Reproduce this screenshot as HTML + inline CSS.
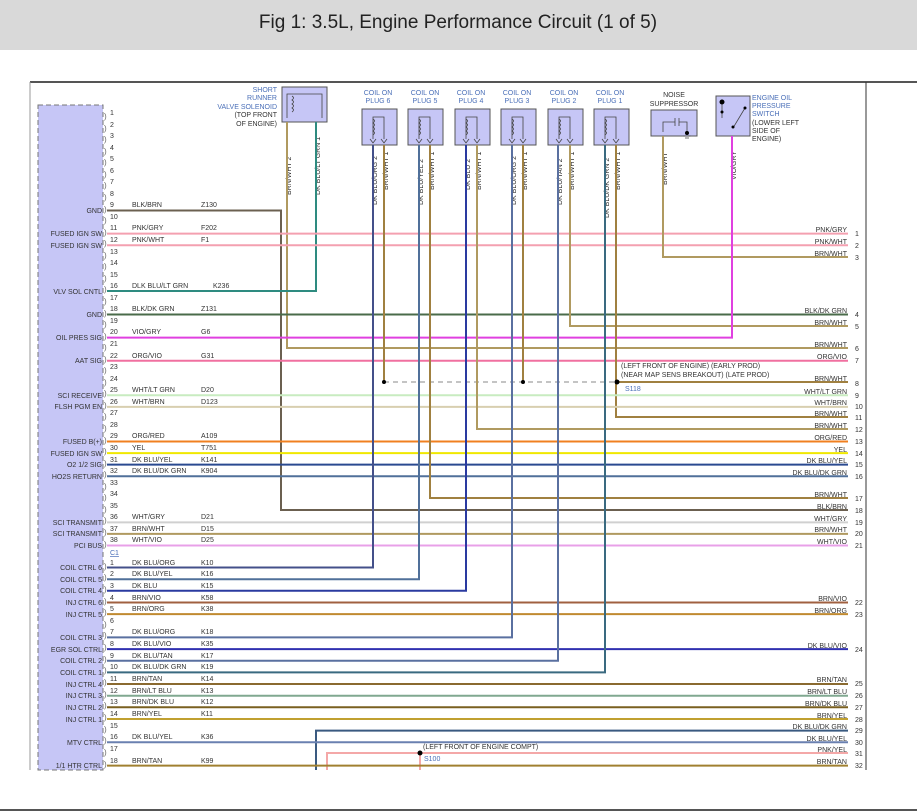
<!DOCTYPE html>
<html><head><meta charset="utf-8"><style>
html,body{margin:0;padding:0;background:#fff;}
svg{display:block;font-family:"Liberation Sans",sans-serif;}
.t{font-size:7px;fill:#333;}
.n{font-size:7px;fill:#333;}
.r{font-size:7px;fill:#333;text-anchor:end;}
.b{font-size:7px;fill:#4a6fb8;}
.w{fill:none;stroke-width:2;}
.pm{font-size:8px;fill:#666;}
</style></head><body>
<svg width="917" height="812" viewBox="0 0 917 812" xmlns="http://www.w3.org/2000/svg">
<defs>
<g id="coil"><path d="M11,30 L11,8 L22,8 L22,30" fill="none" stroke="#444" stroke-width="0.8"/><path d="M11,10 q3,2 0,4 q3,2 0,4 q3,2 0,4 q3,2 0,4" fill="none" stroke="#444" stroke-width="0.8"/><path d="M8,30 l3,4 l3,-4 M19,30 l3,4 l3,-4" fill="none" stroke="#444" stroke-width="0.8"/></g>
</defs>
<rect x="0" y="0" width="917" height="50" fill="#d9d9d9"/>
<text x="458" y="28" font-size="19" fill="#222" text-anchor="middle">Fig 1: 3.5L, Engine Performance Circuit (1 of 5)</text>
<line x1="30" y1="82" x2="917" y2="82" stroke="#555" stroke-width="2"/>
<line x1="30" y1="82" x2="30" y2="770" stroke="#999" stroke-width="1"/>
<line x1="866" y1="82" x2="866" y2="770" stroke="#333" stroke-width="1"/>
<line x1="0" y1="810" x2="917" y2="810" stroke="#555" stroke-width="2"/>

<rect x="38" y="105" width="65" height="665" fill="#c6c6f6" stroke="#777" stroke-dasharray="5,3"/>

<!-- components -->
<g stroke="#555" fill="#c6c6f6">
<rect x="282" y="87" width="45" height="35"/>
<rect x="362" y="109" width="35" height="36"/><rect x="408" y="109" width="35" height="36"/><rect x="455" y="109" width="35" height="36"/>
<rect x="501" y="109" width="35" height="36"/><rect x="548" y="109" width="35" height="36"/><rect x="594" y="109" width="35" height="36"/>
<rect x="651" y="110" width="46" height="26"/><rect x="716" y="96" width="34" height="40"/>
</g>
<use href="#coil" x="362" y="109"/><use href="#coil" x="408" y="109"/><use href="#coil" x="455" y="109"/>
<use href="#coil" x="501" y="109"/><use href="#coil" x="548" y="109"/><use href="#coil" x="594" y="109"/>
<g fill="none" stroke="#444" stroke-width="0.8">
<path d="M287,118 L287,94 L322,94 L322,118"/><path d="M292,96 q3,2 0,4 q3,2 0,4 q3,2 0,4 q3,2 0,4"/>
<path d="M663,132 L663,122 L675,122 M679,122 L687,122 L687,132 M675,118 L675,126 M679,118 L679,126"/>
<path d="M683,136 l8,0 M685,138 l4,0"/>
<path d="M722,104 L722,118 M733,128 L745,108"/>
</g>
<g fill="#000"><circle cx="687" cy="133" r="2"/><circle cx="722" cy="102" r="2.5"/><circle cx="722" cy="112" r="1.5"/><circle cx="745" cy="108" r="1.5"/><circle cx="733" cy="127" r="1.5"/></g>
<g class="b" text-anchor="middle">
<text x="378" y="95">COIL ON</text><text x="378" y="103">PLUG 6</text>
<text x="425" y="95">COIL ON</text><text x="425" y="103">PLUG 5</text>
<text x="471" y="95">COIL ON</text><text x="471" y="103">PLUG 4</text>
<text x="517" y="95">COIL ON</text><text x="517" y="103">PLUG 3</text>
<text x="564" y="95">COIL ON</text><text x="564" y="103">PLUG 2</text>
<text x="610" y="95">COIL ON</text><text x="610" y="103">PLUG 1</text>
</g>
<text class="t" x="674" y="97" text-anchor="middle">NOISE</text><text class="t" x="674" y="106" text-anchor="middle">SUPPRESSOR</text>
<g class="b" text-anchor="end"><text x="277" y="92">SHORT</text><text x="277" y="100">RUNNER</text><text x="277" y="109">VALVE SOLENOID</text></g>
<g class="t" text-anchor="end"><text x="277" y="117">(TOP FRONT</text><text x="277" y="126">OF ENGINE)</text></g>
<g class="b"><text x="752" y="100">ENGINE OIL</text><text x="752" y="108">PRESSURE</text><text x="752" y="116">SWITCH</text></g>
<g class="t"><text x="752" y="125">(LOWER LEFT</text><text x="752" y="133">SIDE OF</text><text x="752" y="141">ENGINE)</text></g>

<!-- vertical component wire labels -->
<g class="t">
<text transform="translate(291,195) rotate(-90)">BRN/WHT  2</text>
<text transform="translate(320,195) rotate(-90)">DK BLU/LT GRN  1</text>
<text transform="translate(377,205) rotate(-90)">DK BLU/ORG  2</text><text transform="translate(388,190) rotate(-90)">BRN/WHT  1</text>
<text transform="translate(423,205) rotate(-90)">DK BLU/YEL  2</text><text transform="translate(434,190) rotate(-90)">BRN/WHT  1</text>
<text transform="translate(470,190) rotate(-90)">DK BLU  2</text><text transform="translate(481,190) rotate(-90)">BRN/WHT  1</text>
<text transform="translate(516,205) rotate(-90)">DK BLU/ORG  2</text><text transform="translate(527,190) rotate(-90)">BRN/WHT  1</text>
<text transform="translate(562,205) rotate(-90)">DK BLU/TAN  2</text><text transform="translate(574,190) rotate(-90)">BRN/WHT  1</text>
<text transform="translate(609,218) rotate(-90)">DK BLU/DK GRN  2</text><text transform="translate(620,190) rotate(-90)">BRN/WHT  1</text>
<text transform="translate(667,185) rotate(-90)">BRN/WHT</text>
<text transform="translate(736,180) rotate(-90)">VIO/GRY</text>
</g>

<!-- wires -->
<g class="w">
<polyline stroke="#6b6050" points="107,210.5 281,210.5 281,510 848,510"/>
<polyline stroke="#b09a60" points="287,122 287,348 848,348"/>
<polyline stroke="#2e8b80" points="316,122 316,291 107,291"/>
<line stroke="#f4a0b0" x1="107" y1="233.6" x2="848" y2="233.6"/>
<line stroke="#f4a0b0" x1="107" y1="245.2" x2="848" y2="245.2"/>
<polyline stroke="#b09a60" points="663,136 663,257 848,257"/>
<line stroke="#4a6b4a" x1="107" y1="314.5" x2="848" y2="314.5"/>
<polyline stroke="#b09a60" points="570,145 570,326 848,326"/>
<polyline stroke="#e040e0" points="732,136 732,337.6 107,337.6"/>
<line stroke="#f070a0" x1="107" y1="360.7" x2="848" y2="360.7"/>
<line stroke="#888" stroke-width="1" stroke-dasharray="5,4" x1="384" y1="382" x2="617" y2="382"/>
<line stroke="#a08040" x1="384" y1="145" x2="384" y2="382"/>
<line stroke="#a08040" x1="523" y1="145" x2="523" y2="382"/>
<polyline stroke="#a08040" points="616,145 616,417 848,417"/>
<line stroke="#a08040" x1="617" y1="382" x2="848" y2="382"/>
<line stroke="#c8ecc0" x1="107" y1="395.3" x2="848" y2="395.3"/>
<line stroke="#d8cfb0" x1="107" y1="406.9" x2="848" y2="406.9"/>
<polyline stroke="#b09a60" points="477,145 477,429 848,429"/>
<line stroke="#f08020" x1="107" y1="441.5" x2="848" y2="441.5"/>
<line stroke="#f0e800" x1="107" y1="453.1" x2="848" y2="453.1"/>
<line stroke="#2a4a90" x1="107" y1="464.6" x2="848" y2="464.6"/>
<line stroke="#50709a" x1="107" y1="476.2" x2="848" y2="476.2"/>
<polyline stroke="#a08040" points="430,145 430,498 848,498"/>
<line stroke="#d0d0d0" x1="107" y1="522.4" x2="848" y2="522.4"/>
<line stroke="#b09a60" x1="107" y1="533.9" x2="848" y2="533.9"/>
<line stroke="#e8a0e8" x1="107" y1="545.5" x2="848" y2="545.5"/>
<polyline stroke="#44508a" points="373,145 373,567.5 107,567.5"/>
<polyline stroke="#50709a" points="419,145 419,579.2 107,579.2"/>
<polyline stroke="#2a3aa0" points="466,145 466,590.8 107,590.8"/>
<line stroke="#a06040" x1="107" y1="602.5" x2="848" y2="602.5"/>
<line stroke="#c08a30" x1="107" y1="614.1" x2="848" y2="614.1"/>
<polyline stroke="#5a70a0" points="512,145 512,637.4 107,637.4"/>
<line stroke="#3030b0" x1="107" y1="649.1" x2="848" y2="649.1"/>
<polyline stroke="#5a70a0" points="558,145 558,660.7 107,660.7"/>
<polyline stroke="#3a6a80" points="605,145 605,672.4 107,672.4"/>
<line stroke="#8a6a30" x1="107" y1="684" x2="848" y2="684"/>
<line stroke="#80a890" x1="107" y1="695.7" x2="848" y2="695.7"/>
<line stroke="#7a6020" x1="107" y1="707.3" x2="848" y2="707.3"/>
<line stroke="#c0a030" x1="107" y1="719" x2="848" y2="719"/>
<polyline stroke="#3a5a80" points="316,770 316,730.6 848,730.6"/>
<line stroke="#6a80b0" x1="107" y1="742.3" x2="848" y2="742.3"/>
<polyline stroke="#f4a8a8" points="327,770 327,753 848,753"/>
<line stroke="#f4a8a8" x1="420" y1="753" x2="420" y2="770"/>
<line stroke="#a08030" x1="107" y1="765.6" x2="848" y2="765.6"/>
</g>
<g fill="#000"><circle cx="384" cy="382" r="2"/><circle cx="523" cy="382" r="2"/><circle cx="617" cy="382" r="2.5"/><circle cx="420" cy="753" r="2.5"/></g>
<text class="t" x="621" y="368">(LEFT FRONT OF ENGINE) (EARLY PROD)</text>
<text class="t" x="621" y="377">(NEAR MAP SENS BREAKOUT) (LATE PROD)</text>
<text class="b" x="625" y="391">S118</text>
<text class="t" x="423" y="749">(LEFT FRONT OF ENGINE COMPT)</text>
<text class="b" x="424" y="761">S100</text>

<!-- pin markers -->
<g class="pm">
<text x="104" y="119">)</text><text x="104" y="131">)</text><text x="104" y="142">)</text><text x="104" y="154">)</text><text x="104" y="165">)</text><text x="104" y="177">)</text><text x="104" y="188">)</text><text x="104" y="200">)</text><text x="104" y="212">)</text><text x="104" y="223">)</text>
<text x="104" y="235">)</text><text x="104" y="246">)</text><text x="104" y="258">)</text><text x="104" y="269">)</text><text x="104" y="281">)</text><text x="104" y="292">)</text><text x="104" y="304">)</text><text x="104" y="316">)</text><text x="104" y="327">)</text><text x="104" y="339">)</text>
<text x="104" y="350">)</text><text x="104" y="362">)</text><text x="104" y="373">)</text><text x="104" y="385">)</text><text x="104" y="396">)</text><text x="104" y="408">)</text><text x="104" y="419">)</text><text x="104" y="431">)</text><text x="104" y="443">)</text><text x="104" y="454">)</text>
<text x="104" y="466">)</text><text x="104" y="477">)</text><text x="104" y="489">)</text><text x="104" y="500">)</text><text x="104" y="512">)</text><text x="104" y="523">)</text><text x="104" y="535">)</text><text x="104" y="547">)</text>
<text x="104" y="569">)</text><text x="104" y="580">)</text><text x="104" y="592">)</text><text x="104" y="604">)</text><text x="104" y="615">)</text><text x="104" y="627">)</text><text x="104" y="638">)</text><text x="104" y="650">)</text><text x="104" y="662">)</text><text x="104" y="673">)</text>
<text x="104" y="685">)</text><text x="104" y="697">)</text><text x="104" y="708">)</text><text x="104" y="720">)</text><text x="104" y="732">)</text><text x="104" y="743">)</text><text x="104" y="755">)</text><text x="104" y="767">)</text>
</g>

<!-- pin numbers -->
<g class="n">
<text x="110" y="115">1</text><text x="110" y="127">2</text><text x="110" y="138">3</text><text x="110" y="150">4</text><text x="110" y="161">5</text><text x="110" y="173">6</text><text x="110" y="184">7</text><text x="110" y="196">8</text><text x="110" y="207">9</text><text x="110" y="219">10</text>
<text x="110" y="230">11</text><text x="110" y="242">12</text><text x="110" y="254">13</text><text x="110" y="265">14</text><text x="110" y="277">15</text><text x="110" y="288">16</text><text x="110" y="300">17</text><text x="110" y="311">18</text><text x="110" y="323">19</text><text x="110" y="334">20</text>
<text x="110" y="346">21</text><text x="110" y="358">22</text><text x="110" y="369">23</text><text x="110" y="381">24</text><text x="110" y="392">25</text><text x="110" y="404">26</text><text x="110" y="415">27</text><text x="110" y="427">28</text><text x="110" y="438">29</text><text x="110" y="450">30</text>
<text x="110" y="462">31</text><text x="110" y="473">32</text><text x="110" y="485">33</text><text x="110" y="496">34</text><text x="110" y="508">35</text><text x="110" y="519">36</text><text x="110" y="531">37</text><text x="110" y="542">38</text>
<text x="110" y="555" fill="#4a6fb8" text-decoration="underline">C1</text>
<text x="110" y="565">1</text><text x="110" y="576">2</text><text x="110" y="588">3</text><text x="110" y="600">4</text><text x="110" y="611">5</text><text x="110" y="623">6</text><text x="110" y="634">7</text><text x="110" y="646">8</text><text x="110" y="658">9</text><text x="110" y="669">10</text>
<text x="110" y="681">11</text><text x="110" y="693">12</text><text x="110" y="704">13</text><text x="110" y="716">14</text><text x="110" y="728">15</text><text x="110" y="739">16</text><text x="110" y="751">17</text><text x="110" y="763">18</text>
</g>

<!-- left names -->
<g class="r">
<text x="102" y="213">GND</text><text x="102" y="236">FUSED IGN SW</text><text x="102" y="248">FUSED IGN SW</text><text x="102" y="294">VLV SOL CNTL</text><text x="102" y="317">GND</text><text x="102" y="340">OIL PRES SIG</text><text x="102" y="363">AAT SIG</text><text x="102" y="398">SCI RECEIVE</text><text x="102" y="409">FLSH PGM EN</text><text x="102" y="444">FUSED B(+)</text><text x="102" y="456">FUSED IGN SW</text><text x="102" y="467">O2 1/2 SIG</text><text x="102" y="479">HO2S RETURN</text><text x="102" y="525">SCI TRANSMIT</text><text x="102" y="536">SCI TRANSMIT</text><text x="102" y="548">PCI BUS</text>
<text x="102" y="570">COIL CTRL 6</text><text x="102" y="582">COIL CTRL 5</text><text x="102" y="593">COIL CTRL 4</text><text x="102" y="605">INJ CTRL 6</text><text x="102" y="617">INJ CTRL 5</text><text x="102" y="640">COIL CTRL 3</text><text x="102" y="652">EGR SOL CTRL</text><text x="102" y="663">COIL CTRL 2</text><text x="102" y="675">COIL CTRL 1</text><text x="102" y="687">INJ CTRL 4</text><text x="102" y="698">INJ CTRL 3</text><text x="102" y="710">INJ CTRL 2</text><text x="102" y="722">INJ CTRL 1</text><text x="102" y="745">MTV CTRL</text><text x="102" y="768">1/1 HTR CTRL</text>
</g>

<!-- wire labels -->
<g class="t">
<text x="132" y="207">BLK/BRN</text><text x="201" y="207">Z130</text>
<text x="132" y="230">PNK/GRY</text><text x="201" y="230">F202</text>
<text x="132" y="242">PNK/WHT</text><text x="201" y="242">F1</text>
<text x="132" y="288">DLK BLU/LT GRN</text><text x="213" y="288">K236</text>
<text x="132" y="311">BLK/DK GRN</text><text x="201" y="311">Z131</text>
<text x="132" y="334">VIO/GRY</text><text x="201" y="334">G6</text>
<text x="132" y="358">ORG/VIO</text><text x="201" y="358">G31</text>
<text x="132" y="392">WHT/LT GRN</text><text x="201" y="392">D20</text>
<text x="132" y="404">WHT/BRN</text><text x="201" y="404">D123</text>
<text x="132" y="438">ORG/RED</text><text x="201" y="438">A109</text>
<text x="132" y="450">YEL</text><text x="201" y="450">T751</text>
<text x="132" y="462">DK BLU/YEL</text><text x="201" y="462">K141</text>
<text x="132" y="473">DK BLU/DK GRN</text><text x="201" y="473">K904</text>
<text x="132" y="519">WHT/GRY</text><text x="201" y="519">D21</text>
<text x="132" y="531">BRN/WHT</text><text x="201" y="531">D15</text>
<text x="132" y="542">WHT/VIO</text><text x="201" y="542">D25</text>
<text x="132" y="565">DK BLU/ORG</text><text x="201" y="565">K10</text>
<text x="132" y="576">DK BLU/YEL</text><text x="201" y="576">K16</text>
<text x="132" y="588">DK BLU</text><text x="201" y="588">K15</text>
<text x="132" y="600">BRN/VIO</text><text x="201" y="600">K58</text>
<text x="132" y="611">BRN/ORG</text><text x="201" y="611">K38</text>
<text x="132" y="634">DK BLU/ORG</text><text x="201" y="634">K18</text>
<text x="132" y="646">DK BLU/VIO</text><text x="201" y="646">K35</text>
<text x="132" y="658">DK BLU/TAN</text><text x="201" y="658">K17</text>
<text x="132" y="669">DK BLU/DK GRN</text><text x="201" y="669">K19</text>
<text x="132" y="681">BRN/TAN</text><text x="201" y="681">K14</text>
<text x="132" y="693">BRN/LT BLU</text><text x="201" y="693">K13</text>
<text x="132" y="704">BRN/DK BLU</text><text x="201" y="704">K12</text>
<text x="132" y="716">BRN/YEL</text><text x="201" y="716">K11</text>
<text x="132" y="739">DK BLU/YEL</text><text x="201" y="739">K36</text>
<text x="132" y="763">BRN/TAN</text><text x="201" y="763">K99</text>
</g>

<!-- right labels -->
<g class="r">
<text x="847" y="232">PNK/GRY</text><text x="847" y="244">PNK/WHT</text><text x="847" y="256">BRN/WHT</text><text x="847" y="313">BLK/DK GRN</text><text x="847" y="325">BRN/WHT</text><text x="847" y="347">BRN/WHT</text><text x="847" y="359">ORG/VIO</text><text x="847" y="381">BRN/WHT</text><text x="847" y="394">WHT/LT GRN</text><text x="847" y="405">WHT/BRN</text><text x="847" y="416">BRN/WHT</text><text x="847" y="428">BRN/WHT</text><text x="847" y="440">ORG/RED</text><text x="847" y="452">YEL</text><text x="847" y="463">DK BLU/YEL</text><text x="847" y="475">DK BLU/DK GRN</text><text x="847" y="497">BRN/WHT</text><text x="847" y="509">BLK/BRN</text><text x="847" y="521">WHT/GRY</text><text x="847" y="532">BRN/WHT</text><text x="847" y="544">WHT/VIO</text>
<text x="847" y="601">BRN/VIO</text><text x="847" y="613">BRN/ORG</text><text x="847" y="648">DK BLU/VIO</text><text x="847" y="682">BRN/TAN</text><text x="847" y="694">BRN/LT BLU</text><text x="847" y="706">BRN/DK BLU</text><text x="847" y="718">BRN/YEL</text><text x="847" y="729">DK BLU/DK GRN</text><text x="847" y="741">DK BLU/YEL</text><text x="847" y="752">PNK/YEL</text><text x="847" y="764">BRN/TAN</text>
</g>
<g class="n">
<text x="855" y="236">1</text><text x="855" y="248">2</text><text x="855" y="260">3</text><text x="855" y="317">4</text><text x="855" y="329">5</text><text x="855" y="351">6</text><text x="855" y="363">7</text><text x="855" y="386">8</text><text x="855" y="398">9</text><text x="855" y="409">10</text><text x="855" y="420">11</text><text x="855" y="432">12</text><text x="855" y="444">13</text><text x="855" y="456">14</text><text x="855" y="467">15</text><text x="855" y="479">16</text><text x="855" y="501">17</text><text x="855" y="513">18</text><text x="855" y="525">19</text><text x="855" y="536">20</text><text x="855" y="548">21</text>
<text x="855" y="605">22</text><text x="855" y="617">23</text><text x="855" y="652">24</text><text x="855" y="686">25</text><text x="855" y="698">26</text><text x="855" y="710">27</text><text x="855" y="722">28</text><text x="855" y="733">29</text><text x="855" y="745">30</text><text x="855" y="756">31</text><text x="855" y="768">32</text>
</g>
</svg>
</body></html>
